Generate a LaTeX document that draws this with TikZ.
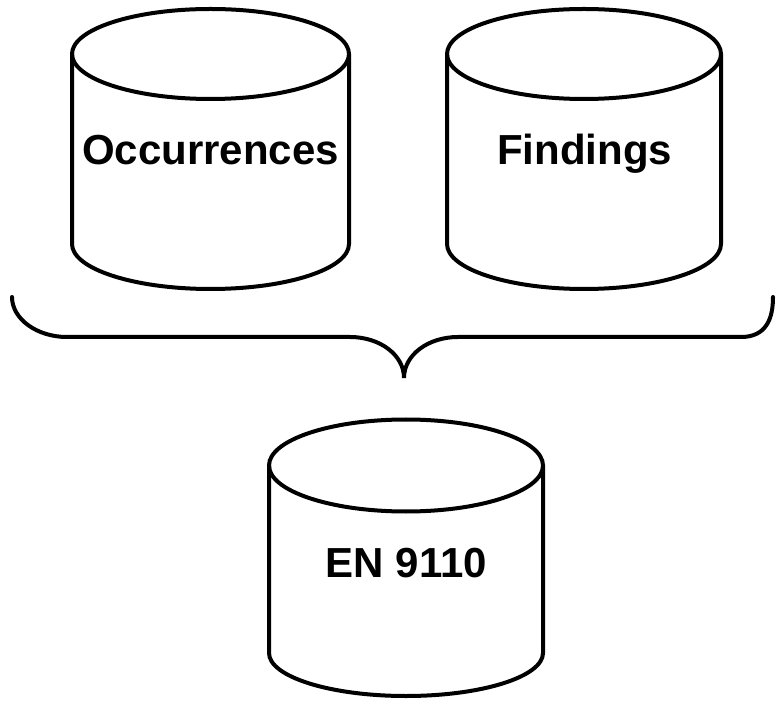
\documentclass[tikz,border=0pt]{standalone}
\usepackage{fontspec}
\setmainfont{Liberation Sans}

\begin{document}
\begin{tikzpicture}[x=1pt, y=1pt, line width=4pt, line cap=round,
	dblabel/.style={font=\fontsize{42}{48}\selectfont\bfseries, anchor=base, inner sep=0pt}]
	\useasboundingbox (0,0) rectangle (776,702);
	% Occurrences
	\draw (210.5,648) ellipse [x radius=138.5, y radius=45];
	\draw (72,648) -- (72,458) arc [start angle=180, end angle=360, x radius=138.5, y radius=45] -- (349,648);
	\node[dblabel] (occ) at (210.5,537) {Occurrences};
	% Findings
	\draw (584,648) ellipse [x radius=137, y radius=45];
	\draw (447,648) -- (447,458) arc [start angle=180, end angle=360, x radius=137, y radius=45] -- (721,648);
	\node[dblabel] (fnd) at (584.5,537) {Findings};
	% brace
	\coordinate (bl) at (12,405);
	\coordinate (br) at (773,405);
	\coordinate (tip) at (404,324);
	\draw (bl) .. controls (12,383) and (37,365) .. (67,365) -- (350,365)
		.. controls (380,365) and (tip |- 0,347) .. (tip)
		.. controls (tip |- 0,347) and (428,365) .. (458,365) -- (741,365)
		.. controls (766,365) and (773,383) .. (br);
	% EN 9110
	\draw (406,236.5) ellipse [x radius=137, y radius=46];
	\draw (269,236.5) -- (269,49) arc [start angle=180, end angle=360, x radius=137, y radius=43] -- (543,236.5);
	\node[dblabel] (en) at (406.5,125) {EN 9110};
\end{tikzpicture}
\end{document}
